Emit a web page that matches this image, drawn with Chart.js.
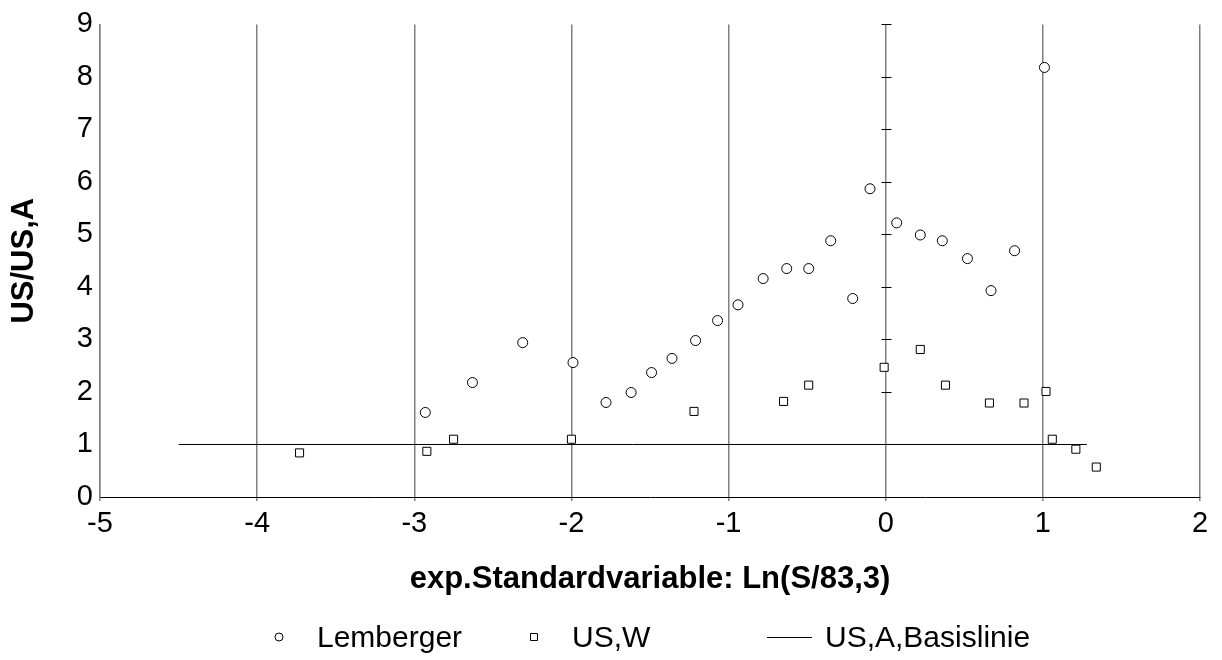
<!DOCTYPE html>
<html>
<head>
<meta charset="utf-8">
<script src="https://cdn.jsdelivr.net/npm/chart.js@4.4.1/dist/chart.umd.min.js"></script>
<style>
  html, body { margin: 0; padding: 0; background: #ffffff; }
  #wrap { width: 1222px; height: 660px; }
</style>
</head>
<body>
<div id="wrap"><canvas id="c" width="1222" height="660"></canvas></div>
<script>
// ---- data ----
const lembergerX = [-2.93, -2.63, -2.31, -1.99, -1.78, -1.62, -1.49, -1.36, -1.21, -1.07, -0.94, -0.78, -0.63, -0.49, -0.35, -0.21, -0.10, 0.07, 0.22, 0.36, 0.52, 0.67, 0.82, 1.01];
const lembergerY = [1.61, 2.18, 2.94, 2.56, 1.80, 1.99, 2.37, 2.64, 2.98, 3.36, 3.66, 4.16, 4.35, 4.35, 4.88, 3.78, 5.87, 5.22, 4.99, 4.88, 4.54, 3.93, 4.69, 8.18];
const uswX = [-3.73, -2.92, -2.75, -2.00, -1.22, -0.65, -0.49, -0.01, 0.22, 0.38, 0.66, 0.88, 1.02, 1.06, 1.21, 1.34];
const uswY = [0.84, 0.87, 1.10, 1.10, 1.63, 1.82, 2.13, 2.47, 2.81, 2.13, 1.79, 1.79, 2.01, 1.10, 0.91, 0.57];
const baselineX = [-4.5, 1.28];
const baselineY = [1, 1];
const seriesNames = ['Lemberger', 'US,W', 'US,A,Basislinie'];
const xTitle = 'exp.Standardvariable: Ln(S/83,3)';
const yTitle = 'US/US,A';
const xRange = [-5, 2];
const yRange = [0, 9];

const zip = (xs, ys) => xs.map((x, i) => ({ x: x, y: ys[i] }));
const FONT = '"Liberation Sans", Arial, sans-serif';

// cross ticks on the vertical line at x = 0
const crossTicks = {
  id: 'crossTicks',
  beforeDatasetsDraw(chart) {
    const { ctx, scales: { x, y } } = chart;
    const px = Math.round(x.getPixelForValue(0)) + 0.5;
    ctx.save();
    ctx.strokeStyle = '#000';
    ctx.lineWidth = 1;
    y.ticks.forEach(t => {
      const py = Math.round(y.getPixelForValue(t.value)) + 0.5;
      ctx.beginPath();
      ctx.moveTo(px - 5, py);
      ctx.lineTo(px + 5, py);
      ctx.stroke();
    });
    ctx.restore();
  }
};

// custom legend with the reference's uneven spacing
const customLegend = {
  id: 'customLegend',
  afterDraw(chart) {
    const ctx = chart.ctx;
    const cy = 637;
    ctx.save();
    ctx.strokeStyle = '#000';
    ctx.lineWidth = 1;
    ctx.fillStyle = '#fff';
    // circle
    ctx.beginPath();
    ctx.arc(279, cy, 4, 0, Math.PI * 2);
    ctx.fill(); ctx.stroke();
    // square
    ctx.beginPath();
    ctx.rect(530.5, cy - 3.5, 7, 7);
    ctx.fill(); ctx.stroke();
    // line
    ctx.beginPath();
    ctx.moveTo(767, cy + 0.5);
    ctx.lineTo(812, cy + 0.5);
    ctx.stroke();
    ctx.fillStyle = '#000';
    ctx.font = '30px ' + FONT;
    ctx.textBaseline = 'middle';
    ctx.textAlign = 'left';
    ctx.fillText(seriesNames[0], 317, cy + 2);
    ctx.fillText(seriesNames[1], 572, cy + 2);
    ctx.fillText(seriesNames[2], 825, cy + 2);
    ctx.restore();
  }
};

new Chart(document.getElementById('c'), {
  type: 'scatter',
  data: {
    datasets: [
      {
        label: seriesNames[2],
        data: zip(baselineX, baselineY),
        showLine: true,
        borderColor: '#000',
        borderWidth: 1,
        pointRadius: 0,
        fill: false,
        order: 3
      },
      {
        label: seriesNames[0],
        data: zip(lembergerX, lembergerY),
        pointStyle: 'circle',
        pointRadius: 5,
        pointBorderWidth: 1,
        pointBorderColor: '#000',
        pointBackgroundColor: '#fff',
        order: 1
      },
      {
        label: seriesNames[1],
        data: zip(uswX, uswY),
        pointStyle: 'rect',
        pointRadius: 5.7,
        pointBorderWidth: 1,
        pointBorderColor: '#000',
        pointBackgroundColor: '#fff',
        order: 2
      }
    ]
  },
  options: {
    responsive: false,
    animation: false,
    events: [],
    layout: { padding: { top: 23, right: 22, left: 0, bottom: 0 } },
    plugins: {
      legend: { display: false },
      tooltip: { enabled: false }
    },
    scales: {
      x: {
        type: 'linear',
        min: xRange[0],
        max: xRange[1],
        ticks: {
          stepSize: 1,
          color: '#000',
          padding: 6,
          font: { family: FONT, size: 29 },
          maxRotation: 0
        },
        grid: {
          display: true,
          color: '#808080',
          lineWidth: 1.5,
          drawTicks: true,
          tickLength: 4,
          tickColor: '#808080'
        },
        border: { display: true, color: '#000', width: 1 },
        title: {
          display: true,
          text: xTitle,
          color: '#000',
          font: { family: FONT, size: 31, weight: 'bold' },
          padding: { top: 0, bottom: 62 }
        },
        afterFit(scale) { scale.height = 163; }
      },
      y: {
        type: 'linear',
        min: yRange[0],
        max: yRange[1],
        ticks: {
          stepSize: 1,
          color: '#000',
          padding: 7,
          font: { family: FONT, size: 29 }
        },
        grid: { display: false, drawTicks: false },
        border: { display: true, color: '#808080', width: 1.5 },
        title: {
          display: true,
          text: yTitle,
          color: '#000',
          font: { family: FONT, size: 31, weight: 'bold' },
          padding: { top: 6, bottom: 0 }
        },
        afterFit(scale) { scale.width = 100; }
      }
    }
  },
  plugins: [crossTicks, customLegend]
});
</script>
</body>
</html>
